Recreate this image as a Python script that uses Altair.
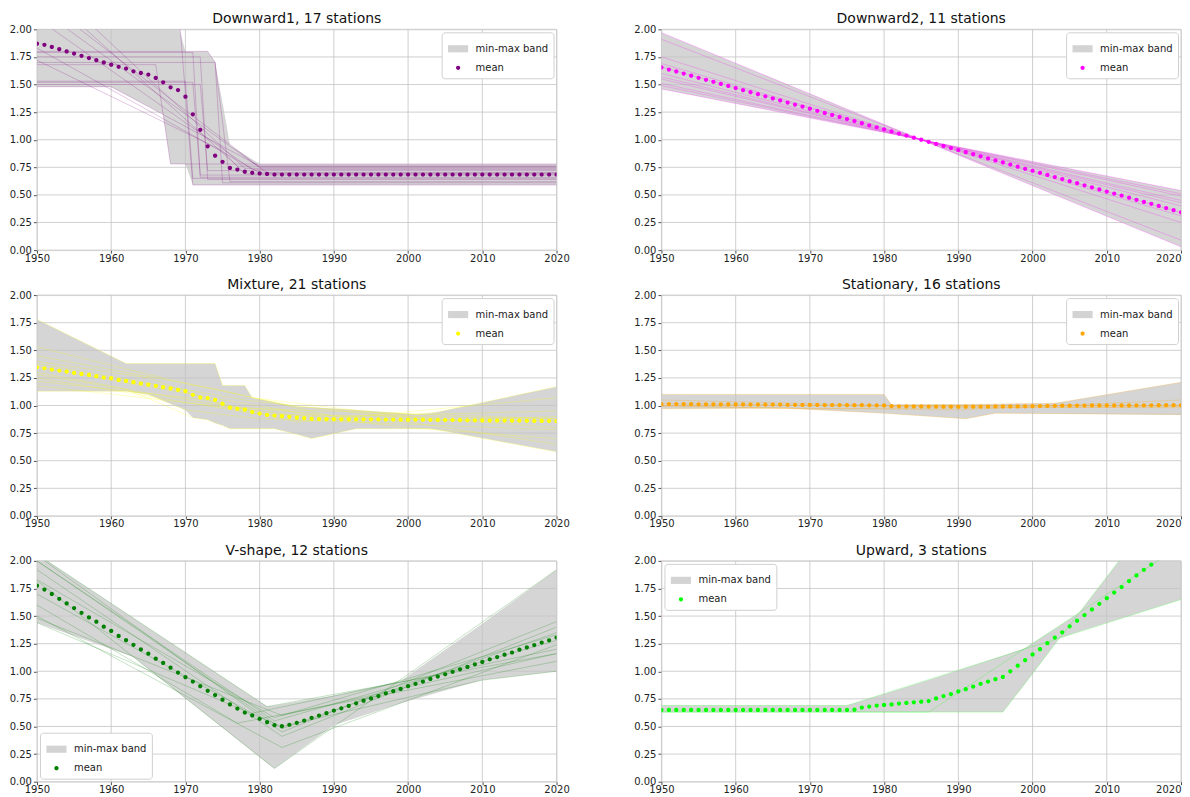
import altair as alt
import pandas as pd

YEARS = list(range(1950, 2021))
X_TICKS = [1950, 1960, 1970, 1980, 1990, 2000, 2010, 2020]
Y_TICKS = [0.0, 0.25, 0.5, 0.75, 1.0, 1.25, 1.5, 1.75, 2.0]

TITLES = ["Downward1, 17 stations", "Downward2, 11 stations", "Mixture, 21 stations",
          "Stationary, 16 stations", "V-shape, 12 stations", "Upward, 3 stations"]
COLORS = ["#800080", "#ff00ff", "#ffff00", "#ffa500", "#008000", "#00ff00"]
LEGEND_POS = ["top-right", "top-right", "top-right", "top-right", "bottom-left", "top-left"]
SERIES = ["min-max band", "mean"]

# ---------------- means (one value per year, 1950..2020) ----------------
D1_MEAN = [1.87, 1.86, 1.84, 1.82, 1.80, 1.78, 1.76, 1.74, 1.72, 1.70,
           1.68, 1.66, 1.645, 1.62, 1.605, 1.59, 1.56, 1.52, 1.475, 1.45,
           1.39, 1.23, 1.09, 0.94, 0.855, 0.80, 0.745, 0.73, 0.71, 0.70,
           0.695, 0.69, 0.685, 0.685, 0.685, 0.685, 0.685, 0.685, 0.685, 0.685,
           0.685, 0.685, 0.685, 0.685, 0.685, 0.685, 0.685, 0.685, 0.685, 0.685,
           0.685, 0.685, 0.685, 0.685, 0.685, 0.685, 0.685, 0.685, 0.685, 0.685,
           0.685, 0.685, 0.685, 0.685, 0.685, 0.685, 0.685, 0.685, 0.685, 0.685,
           0.685]
D2_MEAN = [1.655, 1.636, 1.618, 1.599, 1.580, 1.561, 1.543, 1.524, 1.505, 1.487,
           1.468, 1.449, 1.431, 1.412, 1.393, 1.374, 1.356, 1.337, 1.318, 1.300,
           1.281, 1.262, 1.243, 1.225, 1.206, 1.187, 1.169, 1.150, 1.131, 1.113,
           1.094, 1.075, 1.056, 1.038, 1.019, 1.000, 0.981, 0.962, 0.944, 0.925,
           0.906, 0.887, 0.869, 0.850, 0.831, 0.812, 0.794, 0.775, 0.756, 0.737,
           0.719, 0.700, 0.681, 0.662, 0.644, 0.625, 0.606, 0.587, 0.569, 0.550,
           0.531, 0.512, 0.494, 0.475, 0.456, 0.437, 0.419, 0.400, 0.381, 0.362,
           0.343]
D3_MEAN = [1.346, 1.337, 1.325, 1.316, 1.307, 1.295, 1.286, 1.277, 1.265, 1.253,
           1.247, 1.232, 1.223, 1.211, 1.199, 1.190, 1.178, 1.166, 1.154, 1.142,
           1.130, 1.097, 1.073, 1.067, 1.052, 1.016, 0.980, 0.970, 0.962, 0.940,
           0.927, 0.915, 0.909, 0.903, 0.897, 0.890, 0.885, 0.879, 0.877, 0.876,
           0.876, 0.875, 0.875, 0.875, 0.874, 0.874, 0.874, 0.873, 0.873, 0.872,
           0.872, 0.871, 0.871, 0.870, 0.869, 0.868, 0.868, 0.867, 0.866, 0.866,
           0.865, 0.864, 0.864, 0.863, 0.862, 0.862, 0.861, 0.860, 0.860, 0.859,
           0.858]
D4_MEAN = [1.012, 1.013, 1.013, 1.012, 1.012, 1.011, 1.011, 1.011, 1.010, 1.010,
           1.010, 1.010, 1.009, 1.009, 1.009, 1.008, 1.008, 1.006, 1.006, 1.005,
           1.005, 1.005, 1.004, 1.004, 1.004, 1.003, 1.003, 1.003, 1.002, 1.002,
           1.001, 0.994, 0.993, 0.992, 0.992, 0.991, 0.990, 0.990, 0.989, 0.989,
           0.988, 0.989, 0.989, 0.990, 0.990, 0.991, 0.991, 0.992, 0.992, 0.993,
           0.994, 0.995, 0.996, 0.997, 0.998, 0.998, 0.999, 0.999, 1.000, 1.000,
           1.000, 1.001, 1.001, 1.001, 1.002, 1.002, 1.002, 1.003, 1.003, 1.003,
           1.003]
D5_MEAN = [1.775, 1.740, 1.700, 1.656, 1.614, 1.572, 1.530, 1.488, 1.449, 1.404,
           1.365, 1.320, 1.281, 1.240, 1.198, 1.159, 1.114, 1.075, 1.033, 0.988,
           0.946, 0.907, 0.865, 0.823, 0.784, 0.743, 0.700, 0.662, 0.626, 0.600,
           0.569, 0.539, 0.512, 0.503, 0.515, 0.533, 0.554, 0.578, 0.599, 0.620,
           0.644, 0.665, 0.686, 0.710, 0.734, 0.754, 0.775, 0.800, 0.820, 0.840,
           0.865, 0.886, 0.907, 0.931, 0.952, 0.973, 0.995, 1.018, 1.039, 1.063,
           1.084, 1.108, 1.129, 1.150, 1.170, 1.195, 1.216, 1.237, 1.260, 1.280,
           1.305]
D6_MEAN = [0.650, 0.650, 0.650, 0.650, 0.650, 0.650, 0.650, 0.650, 0.650, 0.650,
           0.650, 0.650, 0.650, 0.650, 0.650, 0.650, 0.650, 0.650, 0.650, 0.650,
           0.650, 0.650, 0.650, 0.650, 0.650, 0.650, 0.652, 0.671, 0.680, 0.689,
           0.695, 0.700, 0.707, 0.713, 0.719, 0.725, 0.730, 0.754, 0.775, 0.793,
           0.817, 0.838, 0.862, 0.886, 0.907, 0.928, 0.949, 1.000, 1.051, 1.100,
           1.153, 1.200, 1.254, 1.305, 1.353, 1.407, 1.458, 1.509, 1.560, 1.611,
           1.662, 1.713, 1.763, 1.817, 1.868, 1.919, 1.967, 2.020, 2.070, 2.120,
           2.170]

# ---------------- min-max bands ----------------
D1_BAND_YEARS = [1950, 1960, 1967, 1968, 1969, 1970, 1971, 1973, 1974, 1975.5, 1976, 1980, 2020]
D1_BAND_HI = [2.25, 2.25, 2.25, 2.25, 2.05, 1.80, 1.80, 1.80, 1.70, 1.15, 0.95, 0.78, 0.78]
D1_BAND_LO = [1.48, 1.48, 1.23, 0.78, 0.78, 0.78, 0.59, 0.59, 0.59, 0.59, 0.59, 0.59, 0.59]

D2_BAND_YEARS = [1950, 1985, 2020]
D2_BAND_HI = [1.97, 1.00, 0.54]
D2_BAND_LO = [1.46, 1.00, 0.03]

D3_BAND_YEARS = [1950, 1962, 1965, 1970, 1971, 1973, 1974, 1975, 1976, 1978, 1979, 1982,
                 1985, 1987, 1993, 2001, 2003, 2004, 2020]
D3_BAND_HI = [1.78, 1.38, 1.38, 1.38, 1.38, 1.38, 1.38, 1.18, 1.18, 1.18, 1.07, 1.03,
              0.99, 0.985, 0.96, 0.92, 0.93, 0.94, 1.17]
D3_BAND_LO = [1.13, 1.13, 1.10, 0.96, 0.89, 0.87, 0.84, 0.82, 0.79, 0.79, 0.79, 0.79,
              0.74, 0.70, 0.79, 0.79, 0.79, 0.78, 0.58]

D4_BAND_YEARS = [1950, 1967, 1980, 1981, 1991, 1995, 2003, 2020]
D4_BAND_HI = [1.10, 1.10, 1.10, 1.01, 1.01, 1.012, 1.02, 1.21]
D4_BAND_LO = [0.97, 0.975, 0.93, 0.925, 0.88, 0.93, 0.925, 0.915]

D5_BAND_YEARS = [1950, 1963, 1981, 1982, 1990, 1999, 2000, 2010, 2020]
D5_BAND_HI = [2.06, 1.48, 0.68, 0.69, 0.78, 0.91, 0.96, 1.43, 1.92]
D5_BAND_LO = [1.44, 1.13, 0.17, 0.12, 0.51, 0.71, 0.73, 0.92, 1.00]

D6_BAND_YEARS = [1950, 1975, 1986, 1996, 1999, 2003.6, 2006.3, 2020]
D6_BAND_HI = [0.69, 0.69, 0.92, 1.14, 1.21, 1.41, 1.53, 2.73]
D6_BAND_LO = [0.63, 0.63, 0.63, 0.63, 0.89, 1.30, 1.36, 1.65]

# ---------------- individual stations (breakpoints: year, value) ----------------
D1_STATIONS = [
    [(1950, 2.25), (1969, 2.25), (1971, 0.59), (2020, 0.59)],
    [(1950, 1.68), (1966, 1.68), (1968, 0.78), (2020, 0.78)],
    [(1950, 1.80), (1973, 1.80), (1974, 1.70), (1976, 0.62), (2020, 0.62)],
    [(1950, 1.79), (1971, 1.79), (1972, 0.66), (2020, 0.66)],
    [(1950, 1.75), (1972, 1.75), (1973, 0.64), (2020, 0.64)],
    [(1950, 1.70), (1974, 1.70), (1975, 0.61), (2020, 0.61)],
    [(1950, 1.52), (1971, 1.52), (1972, 0.68), (2020, 0.68)],
    [(1950, 1.50), (1972, 1.50), (1973, 0.72), (2020, 0.72)],
    [(1950, 1.48), (1960, 1.48), (1980, 0.76), (2020, 0.76)],
    [(1950, 2.30), (1980, 0.75), (2020, 0.75)],
    [(1950, 2.20), (1981, 0.70), (2020, 0.70)],
    [(1950, 2.10), (1979, 0.73), (2020, 0.73)],
    [(1950, 1.83), (1980, 0.70), (2020, 0.70)],
    [(1950, 2.40), (1977, 0.76), (2020, 0.76)],
    [(1950, 1.72), (1975, 0.90), (1978, 0.69), (2020, 0.69)],
    [(1950, 2.50), (1978, 0.74), (2020, 0.74)],
    [(1950, 1.53), (1970, 1.53), (1971, 0.65), (2020, 0.65)],
]
D2_STATIONS = [
    [(1950, 1.97), (1985, 1.0), (2020, 0.03)],
    [(1950, 1.91), (1985, 1.0), (2020, 0.09)],
    [(1950, 1.75), (1985, 1.0), (2020, 0.25)],
    [(1950, 1.69), (1985, 1.0), (2020, 0.31)],
    [(1950, 1.66), (1985, 1.0), (2020, 0.34)],
    [(1950, 1.60), (1985, 1.0), (2020, 0.40)],
    [(1950, 1.57), (1985, 1.0), (2020, 0.43)],
    [(1950, 1.55), (1985, 1.0), (2020, 0.45)],
    [(1950, 1.51), (1985, 1.0), (2020, 0.49)],
    [(1950, 1.49), (1985, 1.0), (2020, 0.51)],
    [(1950, 1.46), (1985, 1.0), (2020, 0.54)],
]
D3_STATIONS = [
    [(1950, 1.78), (1962, 1.38), (1974, 1.38), (1975, 1.18), (1978, 1.18), (1979, 1.07), (2000, 0.90), (2020, 0.80)],
    [(1950, 1.53), (1970, 1.20), (1985, 0.99), (2001, 0.92), (2004, 0.94), (2020, 1.17)],
    [(1950, 1.40), (1965, 1.25), (1976, 0.98), (2020, 0.88)],
    [(1950, 1.35), (1971, 1.10), (1990, 0.88), (2020, 0.86)],
    [(1950, 1.30), (1962, 1.15), (1971, 0.89), (1973, 0.87), (1976, 0.79), (1982, 0.79), (1987, 0.70),
     (1993, 0.79), (2003, 0.79), (2020, 0.58)],
    [(1950, 1.25), (1980, 0.92), (2020, 0.88)],
    [(1950, 1.22), (1973, 1.05), (1985, 0.85), (2020, 1.07)],
    [(1950, 1.13), (1962, 1.13), (1965, 1.10), (1970, 0.96), (1980, 0.88), (2020, 0.78)],
    [(1950, 1.28), (1975, 1.00), (2000, 0.85), (2020, 0.65)],
    [(1950, 1.45), (1974, 1.15), (1990, 0.90), (2020, 0.95)],
    [(1950, 1.18), (1976, 0.98), (2000, 0.80), (2020, 0.70)],
    [(1950, 1.38), (1978, 1.05), (2003, 0.86), (2020, 0.90)],
]
D4_STATIONS = [
    [(1950, 1.10), (1980, 1.10), (1981, 1.00), (2020, 1.00)],
    [(1950, 0.97), (1967, 0.975), (1980, 0.93), (1991, 0.88), (1995, 0.93), (2020, 0.92)],
    [(1950, 1.05), (1980, 1.00), (2003, 1.02), (2020, 1.21)],
    [(1950, 1.00), (2020, 1.00)],
    [(1950, 1.02), (1980, 0.99), (2020, 0.98)],
    [(1950, 0.99), (1990, 0.96), (2020, 1.05)],
    [(1950, 1.00), (1970, 0.97), (2020, 0.99)],
]
D5_STATIONS = [
    [(1950, 2.06), (1981, 0.68), (2020, 1.16)],
    [(1950, 1.82), (1982, 0.12), (2020, 1.92)],
    [(1950, 1.44), (1983, 0.50), (2010, 0.92), (2020, 1.00)],
    [(1950, 1.50), (1983, 0.31), (2020, 1.24)],
    [(1950, 1.60), (1977, 0.53), (2020, 1.09)],
    [(1950, 1.92), (1983, 0.41), (2020, 1.40)],
    [(1950, 1.83), (1982, 0.58), (2020, 1.33)],
    [(1950, 2.05), (1983, 0.45), (2020, 1.45)],
    [(1950, 1.48), (1983, 0.60), (2020, 1.16)],
    [(1950, 2.00), (1982, 0.55), (2020, 1.28)],
    [(1950, 1.70), (1979, 0.62), (2020, 1.20)],
    [(1950, 2.00), (1983, 0.48), (2020, 1.35)],
]
D6_STATIONS = [
    [(1950, 0.69), (1975, 0.69), (2020, 1.65)],
    [(1950, 0.63), (1986, 0.63), (2020, 2.14)],
    [(1950, 0.63), (1996, 0.63), (2020, 2.73)],
]

PANELS = [
    (D1_MEAN, D1_BAND_YEARS, D1_BAND_LO, D1_BAND_HI, D1_STATIONS),
    (D2_MEAN, D2_BAND_YEARS, D2_BAND_LO, D2_BAND_HI, D2_STATIONS),
    (D3_MEAN, D3_BAND_YEARS, D3_BAND_LO, D3_BAND_HI, D3_STATIONS),
    (D4_MEAN, D4_BAND_YEARS, D4_BAND_LO, D4_BAND_HI, D4_STATIONS),
    (D5_MEAN, D5_BAND_YEARS, D5_BAND_LO, D5_BAND_HI, D5_STATIONS),
    (D6_MEAN, D6_BAND_YEARS, D6_BAND_LO, D6_BAND_HI, D6_STATIONS),
]

RECT_PATH = "M-0.9,-0.32L0.9,-0.32L0.9,0.32L-0.9,0.32Z"
DOT_PATH = "M-0.19,0A0.19,0.19 0 1,0 0.19,0A0.19,0.19 0 1,0 -0.19,0Z"
BAND_COLOR = "#d3d3d3"
GRID_COLOR = "#c4c4c4"
FONT = "DejaVu Sans"
W, H = 520, 221

xs = alt.Scale(domain=[1950, 2020], nice=False, zero=False)
ys = alt.Scale(domain=[0, 2], nice=False, zero=False)


def make_panel(i):
    mean, byears, blo, bhi, stations = PANELS[i]
    color = COLORS[i]
    mean_df = pd.DataFrame({"year": YEARS, "value": mean, "series": "mean"})
    band_df = pd.DataFrame({"year": byears, "lo": blo, "hi": bhi})
    rows = []
    for k, st in enumerate(stations):
        for yr, v in st:
            rows.append({"station": k, "year": yr, "value": v})
    st_df = pd.DataFrame(rows)

    if i % 2 == 1:
        x_align = {"condition": {"test": "datum.value == 2020", "value": "right"}, "value": "center"}
    else:
        x_align = "center"
    xax = alt.Axis(values=X_TICKS, format="d", grid=False, domain=False, labelFlush=False,
                   labelOverlap=False, tickColor="#222", tickSize=3, tickWidth=0.8,
                   labelFontSize=10, labelFont=FONT, labelColor="#222", labelPadding=0,
                   labelAlign=x_align, title=None)
    yax = alt.Axis(values=Y_TICKS, format=".2f", grid=False, domain=False, labelFlush=False,
                   labelOverlap=False, tickColor="#222", tickSize=3.5, tickWidth=0.8,
                   labelFontSize=10, labelFont=FONT, labelColor="#222", labelPadding=2, title=None)

    X = lambda f: alt.X(f, scale=xs, axis=xax)
    Y = lambda f: alt.Y(f, scale=ys, axis=yax)

    band = alt.Chart(band_df).mark_area(color=BAND_COLOR, opacity=0.95, clip=True).encode(
        x=X("year:Q"), y=Y("lo:Q"), y2="hi:Q",
    )
    vgrid = alt.Chart(pd.DataFrame({"t": X_TICKS})).mark_rule(
        color=GRID_COLOR, strokeWidth=0.8).encode(x=X("t:Q"))
    hgrid = alt.Chart(pd.DataFrame({"t": Y_TICKS})).mark_rule(
        color=GRID_COLOR, strokeWidth=0.8).encode(y=Y("t:Q"))
    lines = alt.Chart(st_df).mark_line(color=color, strokeWidth=0.9, opacity=0.25, clip=True).encode(
        x=X("year:Q"), y=Y("value:Q"), detail="station:N", order="year:Q",
    )
    legend = alt.Legend(orient=LEGEND_POS[i], title=None, fillColor="white", strokeColor="#d0d0d0",
                        padding=5, cornerRadius=3, labelFontSize=10, labelFont=FONT,
                        labelColor="#222", symbolSize=500, symbolStrokeWidth=0, symbolOpacity=1,
                        rowPadding=2, offset=3, labelOffset=6)
    points = alt.Chart(mean_df).mark_point(filled=True, size=500, opacity=1, clip=True).encode(
        x=X("year:Q"), y=Y("value:Q"),
        color=alt.Color("series:N", scale=alt.Scale(domain=SERIES, range=[BAND_COLOR, color]),
                        legend=legend),
        shape=alt.Shape("series:N", scale=alt.Scale(domain=SERIES, range=[RECT_PATH, DOT_PATH]),
                        legend=legend),
    )
    return alt.layer(band, vgrid, hgrid, lines, points).properties(
        width=W, height=H,
        title=alt.Title(TITLES[i], fontSize=14, font=FONT, fontWeight="normal", color="#111",
                        offset=-2, anchor="middle"),
    )


panels = [make_panel(i) for i in range(6)]
rows = [alt.hconcat(panels[2 * r], panels[2 * r + 1], spacing=62).resolve_scale(
    color="independent", shape="independent", x="independent", y="independent")
    for r in range(3)]
chart = alt.vconcat(*rows, spacing=13).resolve_scale(
    color="independent", shape="independent", x="independent", y="independent"
).properties(
    padding={"left": 0, "top": 3, "right": 0, "bottom": 0}
).configure_view(stroke="#222", strokeWidth=0.9).configure(background="white")

chart.save("out.html", embed_options={"renderer": "svg", "actions": False})
